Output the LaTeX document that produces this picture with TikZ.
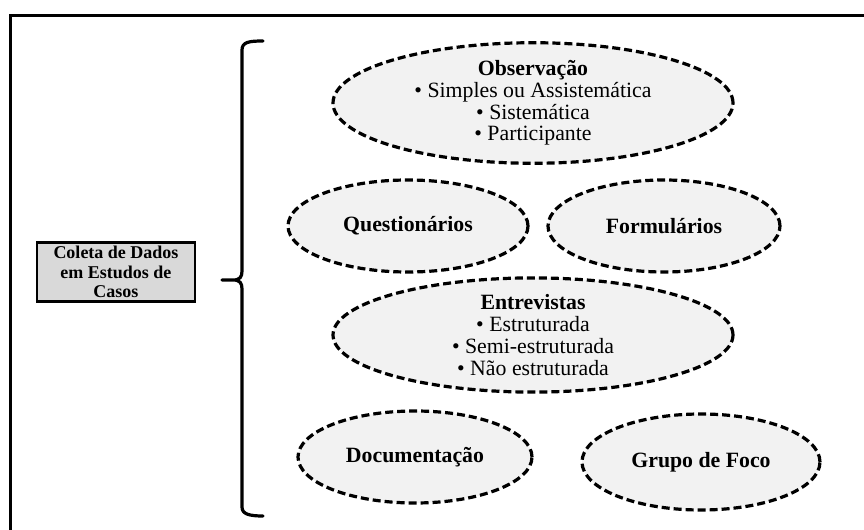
\documentclass[tikz,border=0pt]{standalone}
\usepackage{fontspec}
\setmainfont{Liberation Serif}
\usetikzlibrary{shapes.geometric}
\definecolor{bubblegray}{HTML}{F2F2F2}
\definecolor{boxgray}{HTML}{D9D9D9}
\begin{document}
\begin{tikzpicture}[x=0.5pt,y=-0.5pt,
  bubble/.style={ellipse, draw=black, line width=1.6pt, dash pattern=on 4pt off 2pt,
    fill=bubblegray, inner sep=0pt, align=center,
    font=\fontsize{10.9}{10.9}\selectfont},
  rootbox/.style={rectangle, draw=black, line width=1.3pt, fill=boxgray,
    minimum width=79pt, minimum height=29.5pt, inner sep=0pt, align=center,
    font=\bfseries\fontsize{9}{9.7}\selectfont},
  frameline/.style={line width=1.5pt},
  bracestroke/.style={line width=1.6pt, line cap=round, line join=round}]

  % page extent
  \useasboundingbox (0,0) rectangle (864,530);

  % open frame: top and left rules only
  \coordinate (frameR) at (864,15);
  \coordinate (frameC) at (10,15);
  \coordinate (frameB) at (10,530);
  \draw[frameline] (frameR) -- (frameC) -- (frameB);

  % root box
  \node[rootbox] (root) at (116,272) {Coleta de Dados\\em Estudos de\\Casos};

  % curly brace
  \coordinate (btop) at (263,41);
  \coordinate (btip) at (222,280);
  \coordinate (bbot) at (263,516);
  \draw[bracestroke] (btop) .. controls (249,41) and (242,42) .. (242,50)
    -- (242,271) .. controls (242,277) and (240,280) .. (233,280) -- (btip)
    -- (233,280) .. controls (240,280) and (242,283) .. (242,289)
    -- (242,507) .. controls (242,514) and (249,516) .. (bbot);

  % methods
  \node[bubble, minimum width=200pt, minimum height=48pt] (obs) at (533,103)
    {\textbf{Observação}\\• Simples ou Assistemática\\• Sistemática\\• Participante};
  \node[bubble, minimum width=120pt, minimum height=46pt] (quest) at (408,226)
    {\textbf{Questionários}};
  \node[bubble, minimum width=116pt, minimum height=46pt] (form) at (664,226)
    {\textbf{Formulários}};
  \node[bubble, minimum width=200pt, minimum height=49pt] (entr) at (533,335)
    {\textbf{Entrevistas}\\• Estruturada\\• Semi-estruturada\\• Não estruturada};
  \node[bubble, minimum width=117pt, minimum height=46pt] (doc) at (415,457)
    {\textbf{Documentação}};
  \node[bubble, minimum width=119pt, minimum height=48pt] (foco) at (701,462)
    {\textbf{Grupo de Foco}};
\end{tikzpicture}
\end{document}
